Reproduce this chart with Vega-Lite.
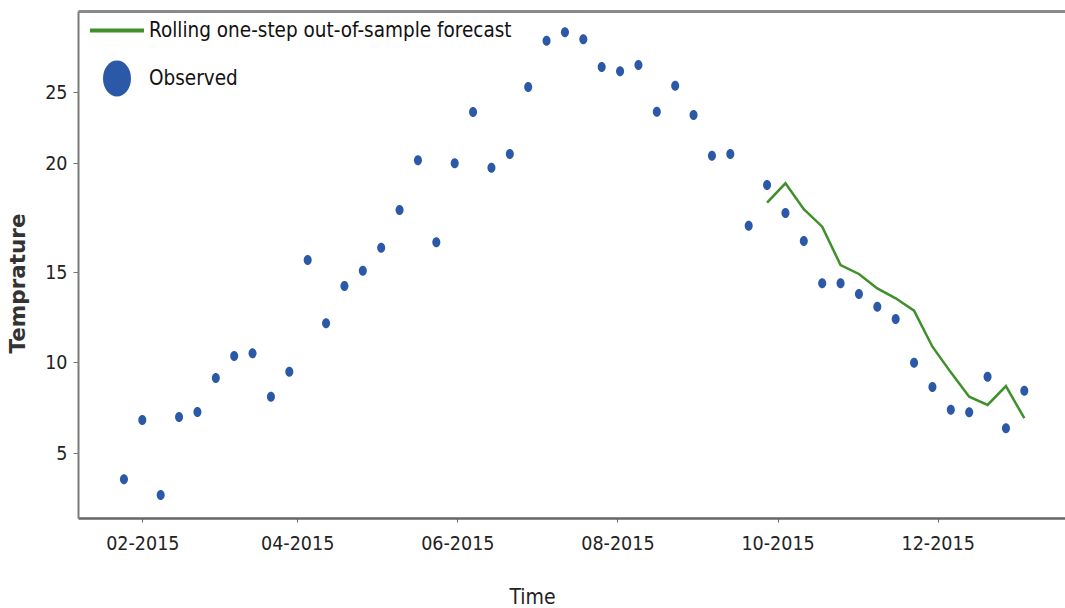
{
  "$schema": "https://vega.github.io/schema/vega-lite/v6.json",
  "width": 987,
  "height": 507,
  "autosize": {"type": "none"},
  "padding": {"left": 78, "top": 11, "right": 0, "bottom": 90},
  "background": "white",
  "config": {
    "view": {"stroke": null},
    "font": "DejaVu Sans Condensed, DejaVu Sans, sans-serif",
    "axis": {"grid": false}
  },
  "datasets": {
    "obs": [
      {"date": "2015-01-25", "temp": 3.56, "series": "Observed"},
      {"date": "2015-02-01", "temp": 6.81, "series": "Observed"},
      {"date": "2015-02-08", "temp": 2.69, "series": "Observed"},
      {"date": "2015-02-15", "temp": 6.98, "series": "Observed"},
      {"date": "2015-02-22", "temp": 7.25, "series": "Observed"},
      {"date": "2015-03-01", "temp": 9.12, "series": "Observed"},
      {"date": "2015-03-08", "temp": 10.33, "series": "Observed"},
      {"date": "2015-03-15", "temp": 10.48, "series": "Observed"},
      {"date": "2015-03-22", "temp": 8.09, "series": "Observed"},
      {"date": "2015-03-29", "temp": 9.47, "series": "Observed"},
      {"date": "2015-04-05", "temp": 15.55, "series": "Observed"},
      {"date": "2015-04-12", "temp": 12.15, "series": "Observed"},
      {"date": "2015-04-19", "temp": 14.22, "series": "Observed"},
      {"date": "2015-04-26", "temp": 15.06, "series": "Observed"},
      {"date": "2015-05-03", "temp": 16.11, "series": "Observed"},
      {"date": "2015-05-10", "temp": 17.84, "series": "Observed"},
      {"date": "2015-05-17", "temp": 20.19, "series": "Observed"},
      {"date": "2015-05-24", "temp": 16.36, "series": "Observed"},
      {"date": "2015-05-31", "temp": 19.99, "series": "Observed"},
      {"date": "2015-06-07", "temp": 23.59, "series": "Observed"},
      {"date": "2015-06-14", "temp": 19.78, "series": "Observed"},
      {"date": "2015-06-21", "temp": 20.63, "series": "Observed"},
      {"date": "2015-06-28", "temp": 25.28, "series": "Observed"},
      {"date": "2015-07-05", "temp": 27.85, "series": "Observed"},
      {"date": "2015-07-12", "temp": 28.32, "series": "Observed"},
      {"date": "2015-07-19", "temp": 27.93, "series": "Observed"},
      {"date": "2015-07-26", "temp": 26.39, "series": "Observed"},
      {"date": "2015-08-02", "temp": 26.15, "series": "Observed"},
      {"date": "2015-08-09", "temp": 26.5, "series": "Observed"},
      {"date": "2015-08-16", "temp": 23.61, "series": "Observed"},
      {"date": "2015-08-23", "temp": 25.35, "series": "Observed"},
      {"date": "2015-08-30", "temp": 23.38, "series": "Observed"},
      {"date": "2015-09-06", "temp": 20.51, "series": "Observed"},
      {"date": "2015-09-13", "temp": 20.63, "series": "Observed"},
      {"date": "2015-09-20", "temp": 17.12, "series": "Observed"},
      {"date": "2015-09-27", "temp": 18.99, "series": "Observed"},
      {"date": "2015-10-04", "temp": 17.71, "series": "Observed"},
      {"date": "2015-10-11", "temp": 16.42, "series": "Observed"},
      {"date": "2015-10-18", "temp": 14.37, "series": "Observed"},
      {"date": "2015-10-25", "temp": 14.37, "series": "Observed"},
      {"date": "2015-11-01", "temp": 13.78, "series": "Observed"},
      {"date": "2015-11-08", "temp": 13.07, "series": "Observed"},
      {"date": "2015-11-15", "temp": 12.39, "series": "Observed"},
      {"date": "2015-11-22", "temp": 9.96, "series": "Observed"},
      {"date": "2015-11-29", "temp": 8.63, "series": "Observed"},
      {"date": "2015-12-06", "temp": 7.38, "series": "Observed"},
      {"date": "2015-12-13", "temp": 7.24, "series": "Observed"},
      {"date": "2015-12-20", "temp": 9.19, "series": "Observed"},
      {"date": "2015-12-27", "temp": 6.36, "series": "Observed"},
      {"date": "2016-01-03", "temp": 8.42, "series": "Observed"}
    ],
    "fc": [
      {"date": "2015-09-27", "temp": 18.18, "series": "Rolling one-step out-of-sample forecast"},
      {"date": "2015-10-04", "temp": 19.07, "series": "Rolling one-step out-of-sample forecast"},
      {"date": "2015-10-11", "temp": 17.88, "series": "Rolling one-step out-of-sample forecast"},
      {"date": "2015-10-18", "temp": 17.08, "series": "Rolling one-step out-of-sample forecast"},
      {"date": "2015-10-25", "temp": 15.32, "series": "Rolling one-step out-of-sample forecast"},
      {"date": "2015-11-01", "temp": 14.89, "series": "Rolling one-step out-of-sample forecast"},
      {"date": "2015-11-08", "temp": 14.09, "series": "Rolling one-step out-of-sample forecast"},
      {"date": "2015-11-15", "temp": 13.54, "series": "Rolling one-step out-of-sample forecast"},
      {"date": "2015-11-22", "temp": 12.85, "series": "Rolling one-step out-of-sample forecast"},
      {"date": "2015-11-29", "temp": 10.85, "series": "Rolling one-step out-of-sample forecast"},
      {"date": "2015-12-06", "temp": 9.43, "series": "Rolling one-step out-of-sample forecast"},
      {"date": "2015-12-13", "temp": 8.09, "series": "Rolling one-step out-of-sample forecast"},
      {"date": "2015-12-20", "temp": 7.64, "series": "Rolling one-step out-of-sample forecast"},
      {"date": "2015-12-27", "temp": 8.68, "series": "Rolling one-step out-of-sample forecast"},
      {"date": "2016-01-03", "temp": 6.91, "series": "Rolling one-step out-of-sample forecast"}
    ]
  },
  "layer": [
    {
      "data": {"name": "fc"},
      "mark": {"type": "line", "strokeWidth": 2.5},
      "encoding": {
        "x": {
          "field": "date", "type": "temporal",
          "scale": {"type": "utc", "domain": [{"year": 2015, "month": 1, "date": 7, "hours": 12, "utc": true}, {"year": 2016, "month": 1, "date": 18, "hours": 12, "utc": true}]},
          "axis": {"orient": "top", "labels": false, "ticks": false, "title": null, "domain": true, "domainColor": "#8a8a8a", "domainWidth": 3, "grid": false}
        },
        "y": {
          "field": "temp", "type": "quantitative",
          "scale": {"domain": [1.43, 5, 10, 15, 20, 25, 29.5], "range": [507, 442, 351, 261, 152, 81, 0], "nice": false, "zero": false},
          "axis": {"values": [5, 10, 15, 20, 25], "title": "Temprature", "titleFont": "DejaVu Sans", "titleFontSize": 21.5, "titleFontWeight": "bold", "titleColor": "#333333", "titleAngle": 270, "titleX": -60, "titleY": 272, "titleAlign": "center", "titleBaseline": "middle", "labelFontSize": 19.5, "labelColor": "#222222", "labelPadding": 6, "tickSize": 5, "tickColor": "#777777", "domainColor": "#7a7a7a", "domainWidth": 2}
        },
        "color": {
          "field": "series", "type": "nominal",
          "scale": {"domain": ["Rolling one-step out-of-sample forecast", "Observed"], "range": ["#3f8f2a", "#2c58a8"]},
          "legend": {
            "orient": "none", "legendX": 13.5, "legendY": -6, "title": null, "direction": "vertical",
            "symbolSize": 2209, "labelFontSize": 20.5, "labelColor": "#111111", "labelOffset": 6.5, "rowPadding": 12, "padding": 0, "labelLimit": 600,
            "encode": {"symbols": {"update": {
              "shape": {"signal": "datum.value === 'Observed' ? 'M -0.51 0 A 0.51 0.68 0 1 1 0.51 0 A 0.51 0.68 0 1 1 -0.51 0 Z' : 'M -1.15 0 L 1.15 0'"},
              "fill": {"signal": "datum.value === 'Observed' ? '#4a86e8' : 'transparent'"},
              "stroke": {"signal": "datum.value === 'Observed' ? 'transparent' : '#3f8f2a'"},
              "strokeWidth": {"value": 4},
              "opacity": {"value": 1}
            }}}
          }
        }
      }
    },
    {
      "data": {"name": "obs"},
      "mark": {"type": "point", "filled": true, "opacity": 1, "size": 100, "shape": "M -0.8 0 A 0.8 1 0 1 1 0.8 0 A 0.8 1 0 1 1 -0.8 0 Z"},
      "encoding": {
        "x": {
          "field": "date", "type": "temporal",
          "scale": {"type": "utc", "domain": [{"year": 2015, "month": 1, "date": 7, "hours": 12, "utc": true}, {"year": 2016, "month": 1, "date": 18, "hours": 12, "utc": true}]},
          "axis": {
            "orient": "bottom",
            "values": [{"year": 2015, "month": 2, "date": 1, "utc": true}, {"year": 2015, "month": 4, "date": 1, "utc": true}, {"year": 2015, "month": 6, "date": 1, "utc": true}, {"year": 2015, "month": 8, "date": 1, "utc": true}, {"year": 2015, "month": 10, "date": 1, "utc": true}, {"year": 2015, "month": 12, "date": 1, "utc": true}],
            "format": "%m-%Y", "title": "Time", "titleFontSize": 21, "titleFontWeight": "normal", "titleColor": "#222222", "titleX": 454, "titleY": 85, "titleAlign": "center", "titleBaseline": "alphabetic",
            "labelFontSize": 19.5, "labelColor": "#222222", "labelPadding": 12, "labelFlush": false, "tickSize": 4, "tickColor": "#666666", "domainColor": "#666666", "domainWidth": 2.5, "grid": false
          }
        },
        "y": {
          "field": "temp", "type": "quantitative",
          "scale": {"domain": [1.43, 5, 10, 15, 20, 25, 29.5], "range": [507, 442, 351, 261, 152, 81, 0], "nice": false, "zero": false},
          "axis": {"values": [5, 10, 15, 20, 25], "title": "Temprature", "titleFont": "DejaVu Sans", "titleFontSize": 21.5, "titleFontWeight": "bold", "titleColor": "#333333", "titleAngle": 270, "titleX": -60, "titleY": 272, "titleAlign": "center", "titleBaseline": "middle", "labelFontSize": 19.5, "labelColor": "#222222", "labelPadding": 6, "tickSize": 5, "tickColor": "#777777", "domainColor": "#7a7a7a", "domainWidth": 2}
        },
        "color": {
          "field": "series", "type": "nominal",
          "scale": {"domain": ["Rolling one-step out-of-sample forecast", "Observed"], "range": ["#3f8f2a", "#2c58a8"]}
        }
      }
    }
  ],
  "resolve": {"axis": {"x": "independent"}}
}
